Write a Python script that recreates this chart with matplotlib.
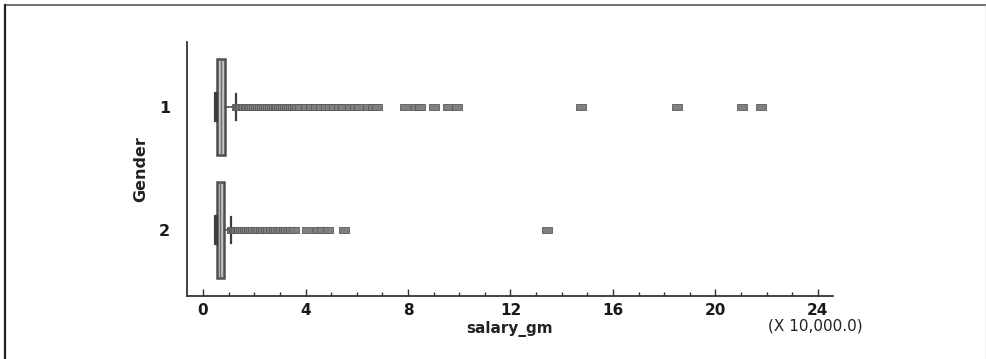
import numpy as np
import matplotlib.pyplot as plt
from matplotlib.lines import Line2D

plt.rcParams['font.family'] = ['DejaVu Sans']

# data (x 10,000)
groups = ['1', '2']
q1 = [0.53, 0.53]
med = [0.70, 0.66]
q3 = [0.87, 0.82]
whislo = [0.50, 0.50]
whishi = [1.29, 1.08]

fliers_1 = [1.32, 1.36, 1.40, 1.45, 1.50, 1.55, 1.60, 1.66, 1.72, 1.78, 1.85, 1.92,
            2.00, 2.08, 2.15, 2.22, 2.30, 2.38, 2.45, 2.52, 2.60, 2.68, 2.75, 2.83,
            2.90, 2.98, 3.05, 3.12, 3.20, 3.28, 3.35, 3.42, 3.50, 3.58, 3.65,
            3.80, 4.00, 4.20, 4.40, 4.60, 4.80, 4.95, 5.10, 5.30, 5.45,
            5.75, 5.95, 6.10, 6.45, 6.65, 6.80, 7.88, 8.30, 8.45, 9.00, 9.57, 9.90,
            14.74, 18.50, 21.05, 21.78]
fliers_2 = [1.12, 1.16, 1.20, 1.25, 1.30, 1.36, 1.42, 1.48, 1.55, 1.62, 1.70, 1.78,
            1.86, 1.95, 2.05, 2.15, 2.25, 2.35, 2.45, 2.55, 2.65, 2.75, 2.85, 2.95,
            3.05, 3.15, 3.25, 3.35, 3.45, 3.55, 4.06, 4.50, 4.65, 4.88, 5.50, 13.42]
fliers = [fliers_1, fliers_2]

xticks = [0, 4, 8, 12, 16, 20, 24]

stats = []
for i in range(len(groups)):
    stats.append(dict(label=groups[i], q1=q1[i], med=med[i], q3=q3[i],
                      whislo=whislo[i], whishi=whishi[i], fliers=fliers[i]))

fig = plt.figure(figsize=(9.87, 3.59), dpi=100)
ax = fig.add_axes([0.1895, 0.1755, 0.6545, 0.7075])

# rectangle-ish outlier marker
rect = [(-1.5, -1), (1.5, -1), (1.5, 1), (-1.5, 1), (-1.5, -1)]

bp = ax.bxp(stats, positions=[1, 2], vert=False, widths=0.78, capwidths=0.21,
            patch_artist=True,
            boxprops=dict(facecolor='#c4c4c4', edgecolor='#4e4e4e', linewidth=1.8),
            medianprops=dict(color='#6a6a6a', linewidth=1),
            whiskerprops=dict(color='#505050', linewidth=1.2),
            capprops=dict(color='#3c3c3c', linewidth=1.6),
            flierprops=dict(marker=rect, markersize=6.5, markerfacecolor='#808080',
                            markeredgecolor='#5a5a5a', markeredgewidth=0.6,
                            linestyle='none'))
# lower caps drawn heavier
for c in bp['caps'][0::2]:
    c.set_linewidth(3)

ax.set_xlim(-0.625, 24.59)
ax.set_ylim(2.537, 0.472)
ax.set_yticks([1, 2])
ax.set_yticklabels(groups, fontsize=11.5, fontweight='bold')
ax.set_xticks(xticks)
ax.set_xticklabels([str(t) for t in xticks], fontsize=11, fontweight='bold')
ax.set_xticks(np.arange(0, 25, 1), minor=True)
ax.tick_params(axis='x', which='major', direction='in', length=5, width=1, pad=5,
               color='#333', labelcolor='#1a1a1a')
ax.tick_params(axis='x', which='minor', direction='in', length=3, width=1, color='#333')
ax.tick_params(axis='y', length=0, pad=12, labelcolor='#1a1a1a')

for s in ['top', 'right']:
    ax.spines[s].set_visible(False)
for s in ['left', 'bottom']:
    ax.spines[s].set_color('#333333')
    ax.spines[s].set_linewidth(1.3)

ax.set_xlabel('salary_gm', fontsize=11, fontweight='bold', labelpad=2, color='#222')
ax.set_ylabel('Gender', fontsize=11.5, fontweight='bold', labelpad=8, color='#222')
fig.text(0.826, 0.092, '(X 10,000.0)', fontsize=11, ha='center', va='center',
         family='Liberation Sans Narrow', color='#222')

# outer frame
fig.add_artist(Line2D([5/987, 986/987], [1-5/359, 1-5/359], color='#666666', lw=1.3))
fig.add_artist(Line2D([5/987, 5/987], [1-5/359, 0], color='#222222', lw=1.6))
fig.add_artist(Line2D([986/987, 986/987], [1-5/359, 0], color='#bbbbbb', lw=1))

fig.savefig('out.png', dpi=100)
